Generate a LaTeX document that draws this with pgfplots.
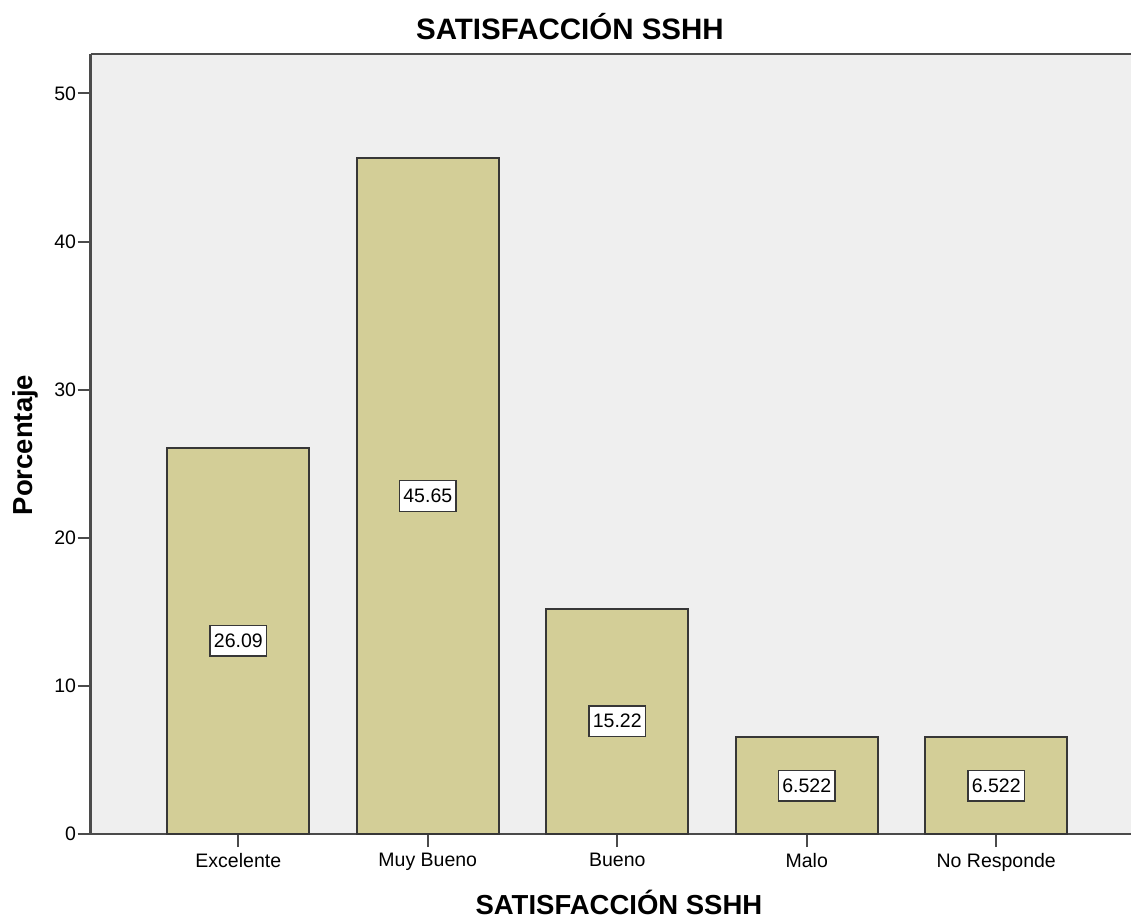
\documentclass[border=0pt]{standalone}
\usepackage{fontspec}
\setmainfont{Liberation Sans}
\usepackage{pgfplots}
\usepackage{pgfplotstable}
\pgfplotsset{compat=1.18}
\definecolor{bgc}{RGB}{239,239,239}
\definecolor{barc}{RGB}{211,206,151}
\definecolor{edgec}{RGB}{55,55,55}
\definecolor{axc}{RGB}{75,75,75}

\pgfplotstableread{
x y label
0 26.09 26.09
1 45.65 45.65
2 15.22 15.22
3 6.522 6.522
4 6.522 6.522
}\datatable

\begin{document}
\begin{tikzpicture}
\path[use as bounding box] (-90.7pt,-84pt) rectangle (1040.3pt,834pt);
\begin{axis}[
  scale only axis,
  width=1040.3pt, height=780pt,
  xmin=-0.779, xmax=4.711,
  ymin=0, ymax=52.66,
  clip=false,
  axis background/.style={fill=bgc},
  axis x line*=bottom,
  axis y line*=left,
  axis line style={-, axc, line width=2.6pt},
  tick align=outside,
  major tick length=13pt,
  tick style={axc, line width=2pt},
  xtick={0,1,2,3,4},
  xticklabels={Excelente, Muy Bueno, Bueno, Malo, No Responde},
  ytick={0,10,20,30,40,50},
  /pgf/number format/assume math mode=true,
  tick label style={font=\fontsize{19.5}{22}\selectfont, black},
  yticklabel style={inner xsep=1.5pt},
  xticklabel style={inner ysep=6pt},
]
\addplot[ybar, bar width=0.749, fill=barc, draw=edgec, line width=2pt,
  point meta=explicit symbolic,
  visualization depends on=y \as \rawy,
  nodes near coords,
  every node near coord/.append style={
    anchor=center,
    shift={(axis direction cs:0,-\rawy/2)},
    font=\fontsize{19.5}{22}\selectfont,
    text=black, fill=white, draw=edgec, line width=1.5pt,
    inner xsep=4pt, inner ysep=8.5pt}
] table[x=x, y=y, meta=label] {\datatable};
\draw[axc, line width=2.6pt] (rel axis cs:0,1) -- (rel axis cs:1,1);
\node[anchor=base, font=\fontsize{29.5}{34}\selectfont\bfseries]
  at (axis description cs:0.4607,1.0188) {SATISFACCIÓN SSHH};
\node[anchor=base, font=\fontsize{27.5}{32}\selectfont\bfseries]
  at (axis description cs:0.5078,-0.1026) {SATISFACCIÓN SSHH};
\node[anchor=base, rotate=90, font=\fontsize{27.5}{32}\selectfont\bfseries]
  at (axis description cs:-0.0555,0.4987) {Porcentaje};
\end{axis}
\end{tikzpicture}
\end{document}
